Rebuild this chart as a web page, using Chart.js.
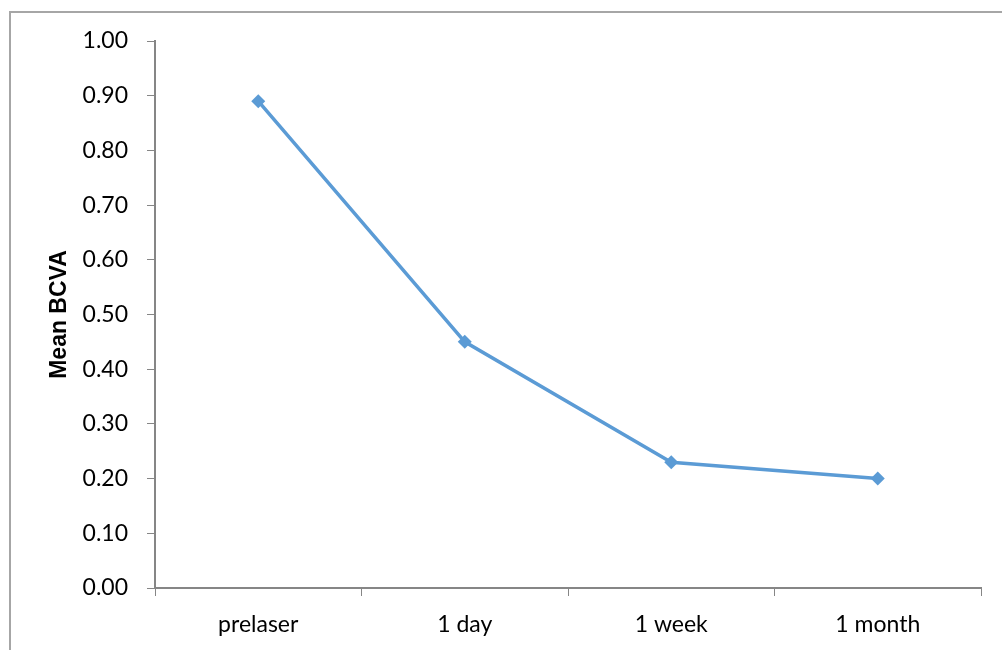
<!DOCTYPE html>
<html>
<head>
<meta charset="utf-8">
<script src="https://cdn.jsdelivr.net/npm/chart.js@4"></script>
<style>
  html, body { margin: 0; padding: 0; background: #fff; }
  body { width: 1002px; height: 650px; position: relative; overflow: hidden; }
  #frame { position: absolute; left: 9px; top: 11px; width: 1010px; height: 660px;
           border: 2px solid #a6a6a6; box-sizing: border-box; }
  #wrap { position: absolute; left: 0; top: 0; width: 1002px; height: 650px; }
</style>
</head>
<body>
<div id="frame"></div>
<div id="wrap"><canvas id="c" width="1002" height="650"></canvas></div>
<script>
// Follow-up time points and mean best-corrected visual acuity
const categories = ['prelaser', '1 day', '1 week', '1 month'];
const meanBCVA = [0.89, 0.45, 0.23, 0.20];
const yTicks = [0, 0.1, 0.2, 0.3, 0.4, 0.5, 0.6, 0.7, 0.8, 0.9, 1.0];

const axisGray = '#868686';
const lineBlue = '#5b9bd5';

new Chart(document.getElementById('c'), {
  type: 'line',
  data: {
    labels: categories,
    datasets: [{
      label: 'Mean BCVA',
      data: meanBCVA,
      borderColor: lineBlue,
      backgroundColor: lineBlue,
      borderWidth: 3.5,
      pointStyle: 'rectRot',
      pointRadius: 7,
      pointBorderWidth: 0,
      tension: 0
    }]
  },
  options: {
    responsive: false,
    animation: false,
    devicePixelRatio: 1,
    layout: { padding: { top: 41, right: 21, left: 0, bottom: 0 } },
    plugins: { legend: { display: false }, tooltip: { enabled: false } },
    scales: {
      x: {
        offset: true,
        grid: { offset: true, drawOnChartArea: false, color: axisGray, tickLength: 8, lineWidth: 1 },
        border: { display: true, color: axisGray, width: 2 },
        ticks: { color: '#000', padding: 15, font: { family: 'Lato', size: 23 } },
        afterFit(s) { s.height = 62; }
      },
      y: {
        min: 0, max: 1,
        afterBuildTicks(s) { s.ticks = yTicks.map(v => ({ value: v })); },
        grid: { drawOnChartArea: false, color: axisGray, tickLength: 8, lineWidth: 1 },
        border: { display: true, color: axisGray, width: 2 },
        ticks: { color: '#000', padding: 19, font: { family: 'Lato', size: 23 },
                 callback: v => v.toFixed(2) },
        title: { display: true, text: 'Mean BCVA', color: '#000',
                 font: { family: 'Liberation Sans', size: 23, weight: 'bold' },
                 padding: { top: 46, bottom: 0 } },
        afterFit(s) { s.width = 155; }
      }
    }
  }
});
</script>
</body>
</html>
